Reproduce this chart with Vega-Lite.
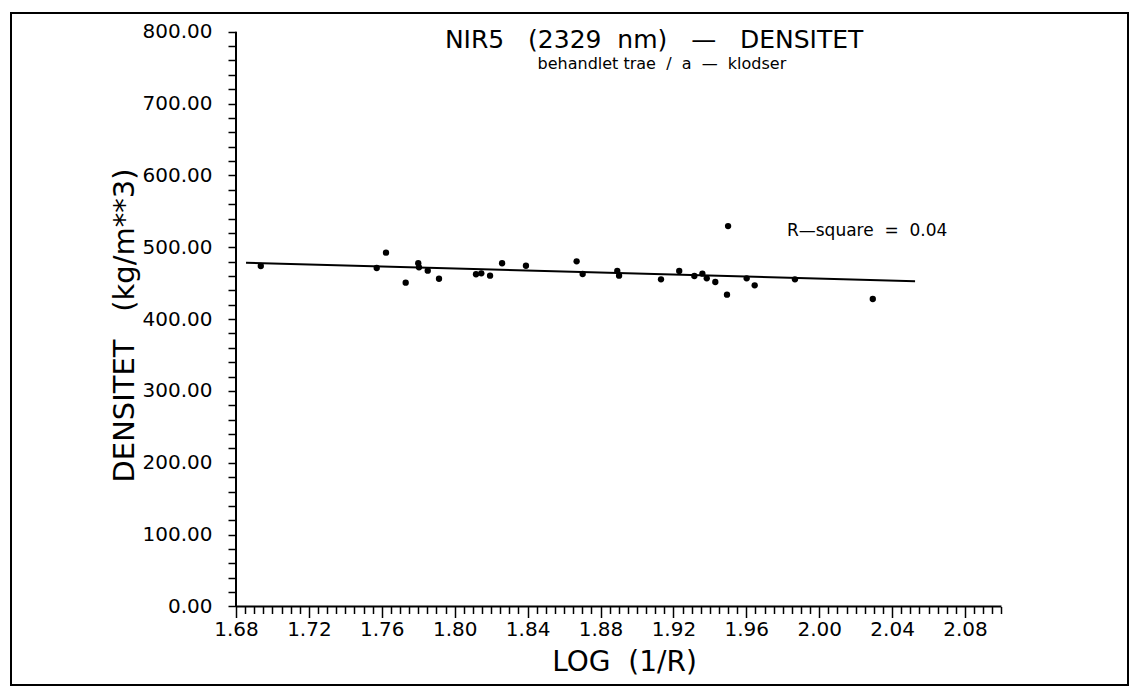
{
  "$schema": "https://vega.github.io/schema/vega-lite/v6.json",
  "width": 1117,
  "height": 672,
  "autosize": {"type": "none"},
  "padding": {"left": 11, "top": 13, "right": 6, "bottom": 9},
  "background": "white",
  "config": {
    "view": {"stroke": "black", "strokeWidth": 2},
    "font": "DejaVu Sans",
    "axis": {"grid": false, "domain": false, "tickColor": "black", "tickWidth": 1.5, "labelColor": "black", "titleColor": "black", "labelFont": "DejaVu Sans", "titleFont": "DejaVu Sans", "titleFontWeight": "normal", "labelFlush": false, "labelOverlap": false, "labelBound": false, "tickCount": 1000}
  },
  "resolve": {"scale": {"x": "shared", "y": "shared"}, "axis": {"x": "independent"}},
  "datasets": {
    "points": [
      {"logR": 1.6936, "dens": 473.9},
      {"logR": 1.7572, "dens": 471.1},
      {"logR": 1.7623, "dens": 492.4},
      {"logR": 1.7731, "dens": 450.7},
      {"logR": 1.7800, "dens": 477.7},
      {"logR": 1.7804, "dens": 472.1},
      {"logR": 1.7852, "dens": 467.4},
      {"logR": 1.7914, "dens": 456.2},
      {"logR": 1.8117, "dens": 462.4},
      {"logR": 1.8146, "dens": 463.7},
      {"logR": 1.8194, "dens": 460.4},
      {"logR": 1.8260, "dens": 477.7},
      {"logR": 1.8391, "dens": 474.3},
      {"logR": 1.8669, "dens": 480.4},
      {"logR": 1.8702, "dens": 462.8},
      {"logR": 1.8892, "dens": 467.0},
      {"logR": 1.8902, "dens": 460.4},
      {"logR": 1.9132, "dens": 455.4},
      {"logR": 1.9232, "dens": 467.0},
      {"logR": 1.9315, "dens": 460.0},
      {"logR": 1.9359, "dens": 463.2},
      {"logR": 1.9383, "dens": 456.8},
      {"logR": 1.9430, "dens": 451.6},
      {"logR": 1.9494, "dens": 434.0},
      {"logR": 1.9500, "dens": 529.5},
      {"logR": 1.9602, "dens": 456.8},
      {"logR": 1.9646, "dens": 447.0},
      {"logR": 1.9867, "dens": 455.4},
      {"logR": 2.0294, "dens": 428.0}
    ],
    "fit": [
      {"logR": 1.6855, "dens": 478.5},
      {"logR": 2.0526, "dens": 452.6}
    ],
    "axislines": [
      {"x": 1.68, "x2": 1.68, "y": 0, "y2": 800},
      {"x": 1.68, "x2": 2.10, "y": 0, "y2": 0}
    ]
  },
  "layer": [
    {
      "data": {"name": "axislines"},
      "mark": {"type": "rule", "color": "black", "strokeWidth": 2},
      "encoding": {
        "x": {"field": "x", "type": "quantitative", "scale": {"domain": [1.55654, 2.16944], "nice": false, "zero": false},
          "axis": {
            "orient": "bottom",
            "offset": -78.5,
            "tickCount": 1000,
            "values": [1.68,1.72,1.76,1.8,1.84,1.88,1.92,1.96,2.0,2.04,2.08],
            "format": ".2f",
            "tickSize": 11,
            "labelFontSize": 20,
            "labelPadding": 2,
            "title": "LOG\u00a0\u00a0(1/R)",
            "titleFontSize": 28,
            "titleX": 613,
            "titleY": 56,
            "titleBaseline": "middle",
            "titleAlign": "center"
          }
        },
        "x2": {"field": "x2"},
        "y": {"field": "y", "type": "quantitative", "scale": {"domain": [-109.26, 826.03], "nice": false, "zero": false},
          "axis": {
            "offset": -225,
            "tickCount": 1000,
            "values": [0,20,40,60,80,100,120,140,160,180,200,220,240,260,280,300,320,340,360,380,400,420,440,460,480,500,520,540,560,580,600,620,640,660,680,700,720,740,760,780,800],
            "labelExpr": "datum.value % 100 === 0 ? format(datum.value, '.2f') : ''",
            "tickSize": 8,
            "labelFontSize": 20,
            "labelPadding": 16,
            "title": "DENSITET\u00a0\u00a0\u00a0(kg/m**3)",
            "titleFontSize": 29,
            "titleAngle": -90,
            "titleX": -112,
            "titleY": 312,
            "titleBaseline": "middle",
            "titleAlign": "center"
          }
        },
        "y2": {"field": "y2"}
      }
    },
    {
      "data": {"name": "fit"},
      "mark": {"type": "line", "color": "black", "strokeWidth": 2},
      "encoding": {
        "x": {"field": "logR", "type": "quantitative",
          "axis": {
            "orient": "bottom",
            "offset": -78.5,
            "tickCount": 1000,
            "values": [1.685,1.69,1.695,1.7,1.705,1.71,1.715,1.725,1.73,1.735,1.74,1.745,1.75,1.755,1.765,1.77,1.775,1.78,1.785,1.79,1.795,1.805,1.81,1.815,1.82,1.825,1.83,1.835,1.845,1.85,1.855,1.86,1.865,1.87,1.875,1.885,1.89,1.895,1.9,1.905,1.91,1.915,1.925,1.93,1.935,1.94,1.945,1.95,1.955,1.965,1.97,1.975,1.98,1.985,1.99,1.995,2.005,2.01,2.015,2.02,2.025,2.03,2.035,2.045,2.05,2.055,2.06,2.065,2.07,2.075,2.085,2.09,2.095,2.1],
            "labels": false,
            "tickSize": 7,
            "title": null
          }
        },
        "y": {"field": "dens", "type": "quantitative"}
      }
    },
    {
      "data": {"name": "points"},
      "mark": {"type": "circle", "color": "black", "opacity": 1, "size": 40},
      "encoding": {
        "x": {"field": "logR", "type": "quantitative", "axis": null},
        "y": {"field": "dens", "type": "quantitative"}
      }
    },
    {
      "data": {"values": [{"t": "NIR5\u00a0\u00a0\u00a0(2329\u00a0\u00a0nm)\u00a0\u00a0\u00a0\u2014\u00a0\u00a0\u00a0DENSITET"}]},
      "mark": {"type": "text", "fontSize": 25, "align": "center", "baseline": "middle", "color": "black"},
      "encoding": {"x": {"datum": 1.9094, "axis": null}, "y": {"datum": 788}, "text": {"field": "t"}}
    },
    {
      "data": {"values": [{"t": "behandlet\u00a0trae\u00a0\u00a0/\u00a0\u00a0a\u00a0\u00a0\u2014\u00a0\u00a0klodser"}]},
      "mark": {"type": "text", "fontSize": 16, "align": "center", "baseline": "middle", "color": "black"},
      "encoding": {"x": {"datum": 1.9137, "axis": null}, "y": {"datum": 755}, "text": {"field": "t"}}
    },
    {
      "data": {"values": [{"t": "R\u2014square\u00a0\u00a0=\u00a0\u00a00.04"}]},
      "mark": {"type": "text", "fontSize": 17, "align": "left", "baseline": "middle", "color": "black"},
      "encoding": {"x": {"datum": 1.9823, "axis": null}, "y": {"datum": 522.6}, "text": {"field": "t"}}
    }
  ]
}
